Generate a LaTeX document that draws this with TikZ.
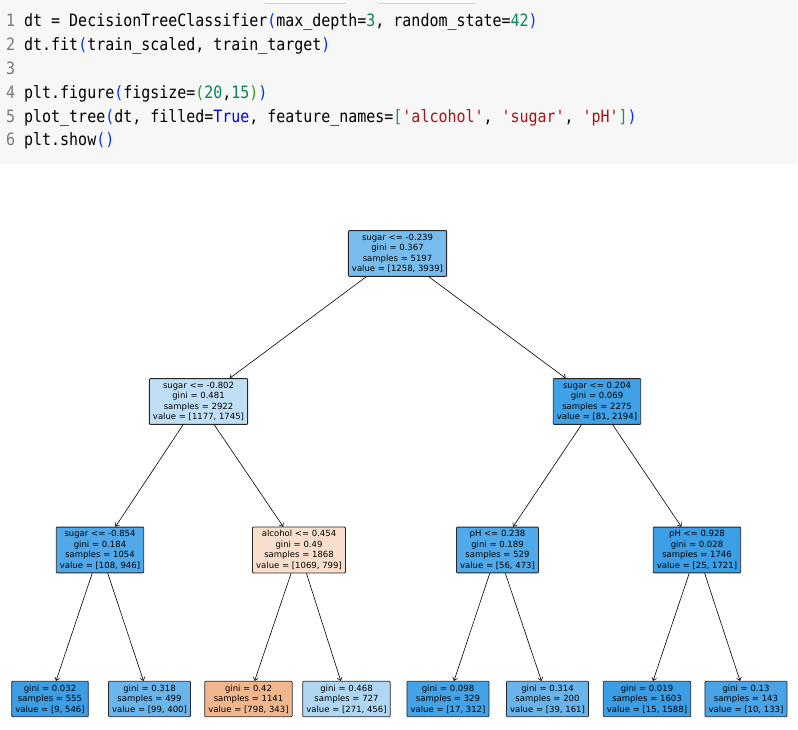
\documentclass[tikz,border=0pt]{standalone}
\usepackage{fontspec}
\usetikzlibrary{arrows.meta}
\newfontfamily\codefont{DejaVu Sans Mono}[FakeStretch=0.88,Ligatures=TeXOff]
\newfontfamily\treefont{DejaVu Sans}
\definecolor{codebg}{HTML}{F7F7F7}
\definecolor{lnum}{HTML}{7A7A7A}
\definecolor{pblue}{HTML}{0431FA}
\definecolor{kblue}{HTML}{0000FF}
\definecolor{ngreen}{HTML}{098658}
\definecolor{bgreen}{HTML}{319331}
\definecolor{sred}{HTML}{A31515}
\definecolor{cR}{RGB}{120,188,237}
\definecolor{cA}{RGB}{191,223,247}
\definecolor{cB}{RGB}{64,161,230}
\definecolor{cC}{RGB}{80,168,232}
\definecolor{cD}{RGB}{248,223,205}
\definecolor{cE}{RGB}{80,169,232}
\definecolor{cF}{RGB}{60,158,229}
\definecolor{cL1}{RGB}{60,159,229}
\definecolor{cL2}{RGB}{106,181,235}
\definecolor{cL3}{RGB}{240,183,142}
\definecolor{cL4}{RGB}{175,215,244}
\definecolor{cL5}{RGB}{68,162,230}
\definecolor{cL6}{RGB}{105,181,235}
\definecolor{cL7}{RGB}{59,158,229}
\definecolor{cL8}{RGB}{72,164,231}
\newcommand{\Ln}[1]{\textcolor{lnum}{#1}}
\newcommand{\Pb}[1]{\textcolor{pblue}{#1}}
\newcommand{\Kb}[1]{\textcolor{kblue}{#1}}
\newcommand{\Ng}[1]{\textcolor{ngreen}{#1}}
\newcommand{\Bg}[1]{\textcolor{bgreen}{#1}}
\newcommand{\Sr}[1]{\textcolor{sred}{#1}}
\tikzset{
  codeline/.style={anchor=base west, inner sep=0pt, font={\codefont\fontsize{17}{20}\selectfont}},
  tn/.style={draw=black!85, line width=0.8pt, align=center, inner xsep=3.6pt, inner ysep=3.4pt,
    rounded corners=0.8pt, font={\treefont\fontsize{8.5}{10.5}\selectfont}},
  edge/.style={-{Straight Barb[length=3pt,width=5pt]}, line width=0.6pt, black}
}
\begin{document}
\begin{tikzpicture}[x=1pt,y=-1pt]
\useasboundingbox (0,0) rectangle (798,730);
\fill[white] (0,0) rectangle (798,730);
% code cell
\fill[codebg] (0,0) rectangle (797,164);
\fill[black!18, rounded corners=1.5pt] (264,-3) rectangle (346,4);
\fill[white, rounded corners=1.5pt] (264,-3) rectangle (346,3);
\fill[black!18, rounded corners=1.5pt] (377,-3) rectangle (476,4);
\fill[white, rounded corners=1.5pt] (377,-3) rectangle (476,3);
\node[codeline] (c1) at (6,27) {\Ln{1} dt = DecisionTreeClassifier\Pb{(}max\_depth=\Ng{3}, random\_state=\Ng{42}\Pb{)}};
\node[codeline] (c2) at (6,50.8) {\Ln{2} dt.fit\Pb{(}train\_scaled, train\_target\Pb{)}};
\node[codeline] (c3) at (6,74.6) {\Ln{3}};
\node[codeline] (c4) at (6,98.4) {\Ln{4} plt.figure\Pb{(}figsize=\Bg{(}\Ng{20},\Ng{15}\Bg{)}\Pb{)}};
\node[codeline] (c5) at (6,122.2) {\Ln{5} plot\_tree\Pb{(}dt, filled=\Kb{True}, feature\_names=\Bg{[}\Sr{'alcohol'}, \Sr{'sugar'}, \Sr{'pH'}\Bg{]}\Pb{)}};
\node[codeline] (c6) at (6,146) {\Ln{6} plt.show\Pb{()}};
% tree
\node[tn, fill=cR] (r) at (397.5,253.5) {sugar <= -0.239\\gini = 0.367\\samples = 5197\\value = [1258, 3939]};
\node[tn, fill=cA] (a) at (198.5,401.5) {sugar <= -0.802\\gini = 0.481\\samples = 2922\\value = [1177, 1745]};
\node[tn, fill=cB] (b) at (597,401.5) {sugar <= 0.204\\gini = 0.069\\samples = 2275\\value = [81, 2194]};
\node[tn, fill=cC] (aa) at (100,550) {sugar <= -0.854\\gini = 0.184\\samples = 1054\\value = [108, 946]};
\node[tn, fill=cD] (ab) at (299,550) {alcohol <= 0.454\\gini = 0.49\\samples = 1868\\value = [1069, 799]};
\node[tn, fill=cE] (ba) at (497.5,550) {pH <= 0.238\\gini = 0.189\\samples = 529\\value = [56, 473]};
\node[tn, fill=cF] (bb) at (697,550) {pH <= 0.928\\gini = 0.028\\samples = 1746\\value = [25, 1721]};
\node[tn, fill=cL1] (l1) at (50,699) {gini = 0.032\\samples = 555\\value = [9, 546]};
\node[tn, fill=cL2] (l2) at (149.5,699) {gini = 0.318\\samples = 499\\value = [99, 400]};
\node[tn, fill=cL3] (l3) at (248.5,699) {gini = 0.42\\samples = 1141\\value = [798, 343]};
\node[tn, fill=cL4] (l4) at (346.5,699) {gini = 0.468\\samples = 727\\value = [271, 456]};
\node[tn, fill=cL5] (l5) at (448,699) {gini = 0.098\\samples = 329\\value = [17, 312]};
\node[tn, fill=cL6] (l6) at (547.5,699) {gini = 0.314\\samples = 200\\value = [39, 161]};
\node[tn, fill=cL7] (l7) at (647,699) {gini = 0.019\\samples = 1603\\value = [15, 1588]};
\node[tn, fill=cL8] (l8) at (746,699) {gini = 0.13\\samples = 143\\value = [10, 133]};
\draw[edge] (r) -- (a);
\draw[edge] (r) -- (b);
\draw[edge] (a) -- (aa);
\draw[edge] (a) -- (ab);
\draw[edge] (b) -- (ba);
\draw[edge] (b) -- (bb);
\draw[edge] (aa) -- (l1);
\draw[edge] (aa) -- (l2);
\draw[edge] (ab) -- (l3);
\draw[edge] (ab) -- (l4);
\draw[edge] (ba) -- (l5);
\draw[edge] (ba) -- (l6);
\draw[edge] (bb) -- (l7);
\draw[edge] (bb) -- (l8);
\end{tikzpicture}
\end{document}
